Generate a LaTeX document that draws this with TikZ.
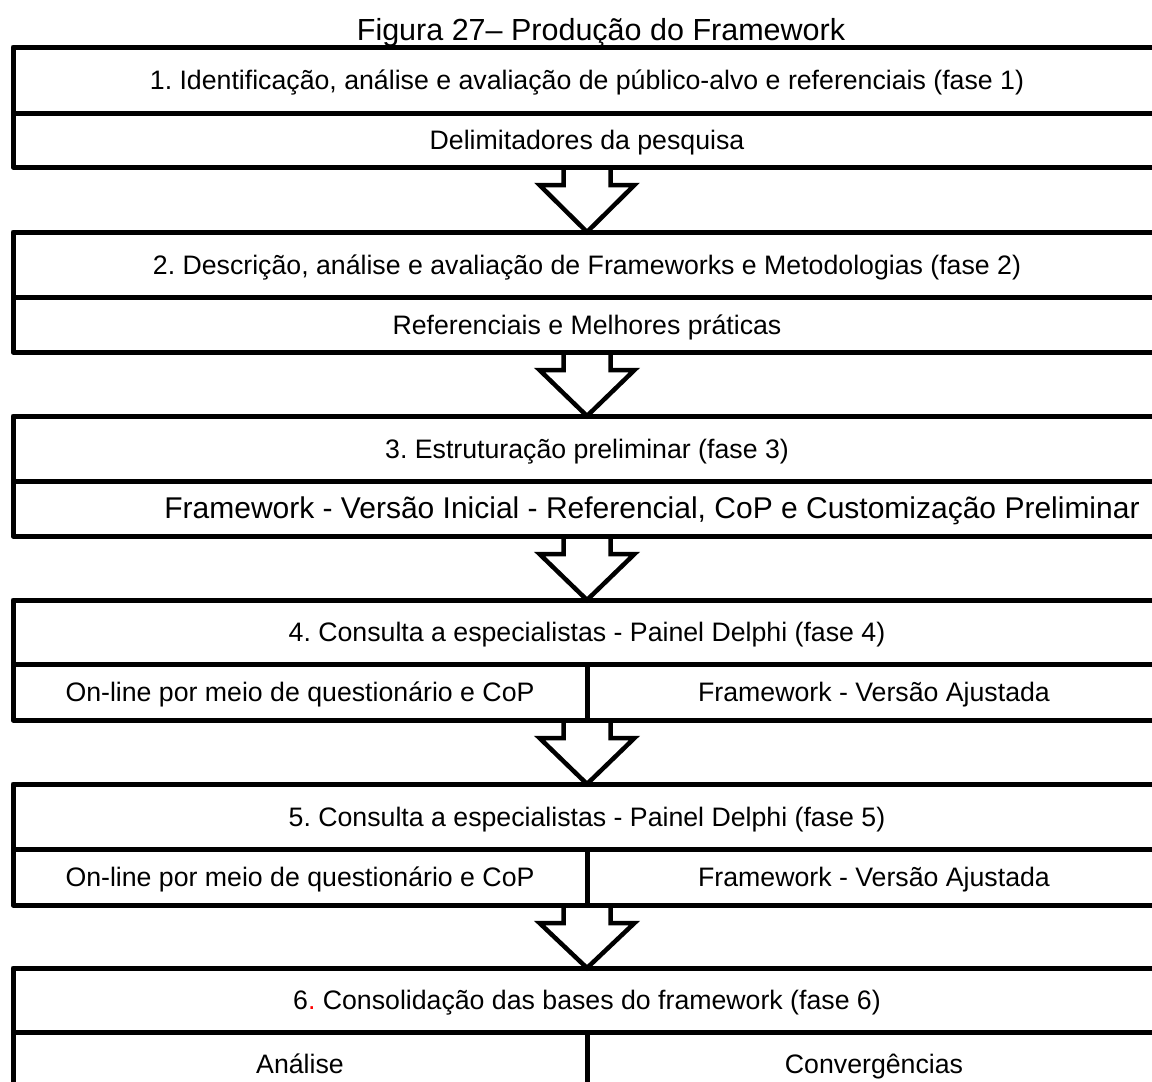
\documentclass[tikz,border=0pt]{standalone}
\usepackage{fontspec}
\setmainfont{Liberation Sans}
\frenchspacing
\begin{document}
\begin{tikzpicture}[x=1pt,y=-1pt,
  row/.style={draw=black,line width=5pt,line join=round,rectangle,anchor=north west,
    inner sep=0pt,outer sep=0pt,minimum width=1148pt,
    font=\fontsize{26.7}{32}\selectfont,text height=19pt,text depth=0pt},
  halfrow/.style={row,minimum width=574pt},
  flowarrow/.style={draw=black,line width=4.5pt,line join=miter}]
\useasboundingbox (0,0) rectangle (1152,1082);
\clip (0,0) rectangle (1152,1082);

% title
\node[anchor=base,inner sep=0pt,font=\fontsize{30.5}{36}\selectfont] (title) at (601,40) {Figura 27– Produção do Framework};

% phase 1
\node[row,minimum height=66pt] (p1a) at (13,47) {1. Identificação, análise e avaliação de público-alvo e referenciais (fase 1)};
\node[row,minimum height=54pt] (p1b) at (13,113) {Delimitadores da pesquisa};

% phase 2
\node[row,minimum height=65pt] (p2a) at (13,232) {2. Descrição, análise e avaliação de Frameworks e Metodologias (fase 2)};
\node[row,minimum height=55pt] (p2b) at (13,297) {Referenciais e Melhores práticas};

% phase 3
\node[row,minimum height=65pt] (p3a) at (13,416) {3. Estruturação preliminar (fase 3)};
\node[row,minimum height=55pt] (p3b) at (13,481) {};
\node[anchor=base,inner sep=0pt,font=\fontsize{30}{36}\selectfont] (p3t) at (652,518.5)
  {Framework - Versão Inicial - Referencial, CoP e Customização Preliminar};

% phase 4
\node[row,minimum height=64pt] (p4a) at (13,600) {4. Consulta a especialistas - Painel Delphi (fase 4)};
\node[halfrow,minimum height=56pt] (p4l) at (13,664) {On-line por meio de questionário e CoP};
\node[halfrow,minimum height=56pt] (p4r) at (587,664) {Framework - Versão Ajustada};

% phase 5
\node[row,minimum height=65pt] (p5a) at (13,784) {5. Consulta a especialistas - Painel Delphi (fase 5)};
\node[halfrow,minimum height=56pt] (p5l) at (13,849) {On-line por meio de questionário e CoP};
\node[halfrow,minimum height=56pt] (p5r) at (587,849) {Framework - Versão Ajustada};

% phase 6
\node[row,minimum height=64pt] (p6a) at (13,968) {6\textcolor{red}{.} Consolidação das bases do framework (fase 6)};
\node[halfrow,minimum height=64pt] (p6l) at (13,1032) {Análise};
\node[halfrow,minimum height=64pt] (p6r) at (587,1032) {Convergências};

% block arrows between phases
\newcommand{\phasearrow}[2]{%
  \draw[flowarrow] ([xshift=-23.5pt]#1) -- ++(0,18) -- ++(-24,0) -- (#2)
    -- ([xshift=47.5pt,yshift=-18pt]#1) -- ++(-24,0) -- ([xshift=23.5pt]#1);}
\phasearrow{p1b.south}{p2a.north}
\phasearrow{p2b.south}{p3a.north}
\phasearrow{p3b.south}{p4a.north}
\phasearrow{p4l.south east}{p5a.north}
\phasearrow{p5l.south east}{p6a.north}
\end{tikzpicture}
\end{document}
